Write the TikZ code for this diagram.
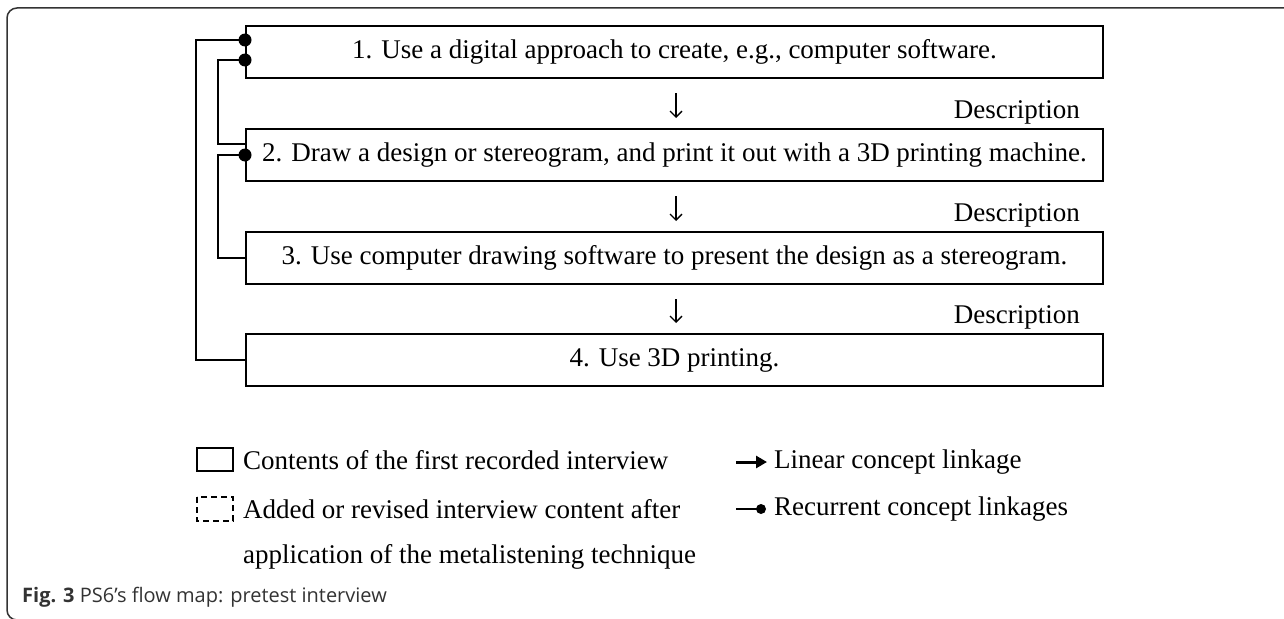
\documentclass[tikz,border=0pt]{standalone}
\usepackage{fontspec}
\setmainfont{Liberation Serif}
\newfontfamily\capfont{Open Sans}
\usetikzlibrary{arrows.meta,calc}
\begin{document}
\begin{tikzpicture}[x=1pt,y=-1pt,
  every node/.style={font=\fontsize{27}{32}\selectfont},
  stepbox/.style={draw,line width=2pt,minimum width=857pt,minimum height=52pt,inner sep=0pt,anchor=north west},
  rec/.style={line width=1.6pt},
  lin/.style={line width=1.3pt,-{Straight Barb[length=6pt,width=12pt]},shorten <=14pt,shorten >=10pt},
  desc/.style={anchor=east,inner sep=0pt},
  legtext/.style={anchor=west,inner sep=0pt}]
\useasboundingbox (0,0) rectangle (1284,618);
% outer frame
\draw[line width=1.5pt,draw=black!80,rounded corners=10pt] (1290,8) -- (7,8) -- (7,620) -- (20,620);
% boxes
\node[stepbox] (b1) at (245,25) {1. Use a digital approach to create, e.g., computer software.};
\node[stepbox] (b2) at (245,128) {2. Draw a design or stereogram, and print it out with a 3D printing machine.};
\node[stepbox] (b3) at (245,231) {3. Use computer drawing software to present the design as a stereogram.};
\node[stepbox] (b4) at (245,333) {4. Use 3D printing.};
% linear arrows
\draw[lin] ($(b1.south west)+(431,0)$) -- ($(b2.north west)+(431,0)$);
\draw[lin] ($(b2.south west)+(431,0)$) -- ($(b3.north west)+(431,0)$);
\draw[lin] ($(b3.south west)+(431,0)$) -- ($(b4.north west)+(431,0)$);
% descriptions
\node[desc] (d1) at (1080,112) {Description};
\node[desc] (d2) at (1080,215) {Description};
\node[desc] (d3) at (1080,317) {Description};
% recurrent linkages
\coordinate (p1) at ($(b1.north west)+(0,15)$);
\coordinate (p2) at ($(b1.north west)+(0,35)$);
\coordinate (p3) at ($(b2.north west)+(0,27)$);
\draw[rec] (b4.west) -| (196,0 |- p1) -- (p1);
\draw[rec] ($(b2.north west)+(0,16)$) -| (218,0 |- p2) -- (p2);
\draw[rec] (b3.west) -| (218,0 |- p3) -- (p3);
\fill (p1) circle (6.5);
\fill (p2) circle (6.5);
\fill (p3) circle (6.5);
% legend left
\draw[line width=1.5pt] (197,448) rectangle (233,471);
\draw[line width=1.5pt,dash pattern=on 6pt off 4pt] (197,497) rectangle (233,521);
\node[legtext] (l1) at (243,460) {Contents of the first recorded interview};
\node[legtext] (l2) at (243,509) {Added or revised interview content after};
\node[legtext] (l3) at (243,557) {application of the metalistening technique};
% legend right
\coordinate (a1) at (736,462);
\coordinate (a2) at (767,462);
\draw[line width=3pt,-{Triangle[length=11pt,width=12pt]}] (a1) -- (a2);
\coordinate (c1) at (736,509);
\coordinate (c2) at (761,509);
\draw[line width=1.3pt] (c1) -- (c2);
\fill (c2) circle (5);
\node[legtext] (r1) at (774,462) {Linear concept linkage};
\node[legtext] (r2) at (774,509) {Recurrent concept linkages};
% caption
\node[anchor=west,inner sep=0pt,text=black!80,font=\capfont\fontsize{20}{24}\selectfont] (cap) at (22,597) {\textbf{Fig. 3} PS6’s flow map: pretest interview};
\end{tikzpicture}
\end{document}
